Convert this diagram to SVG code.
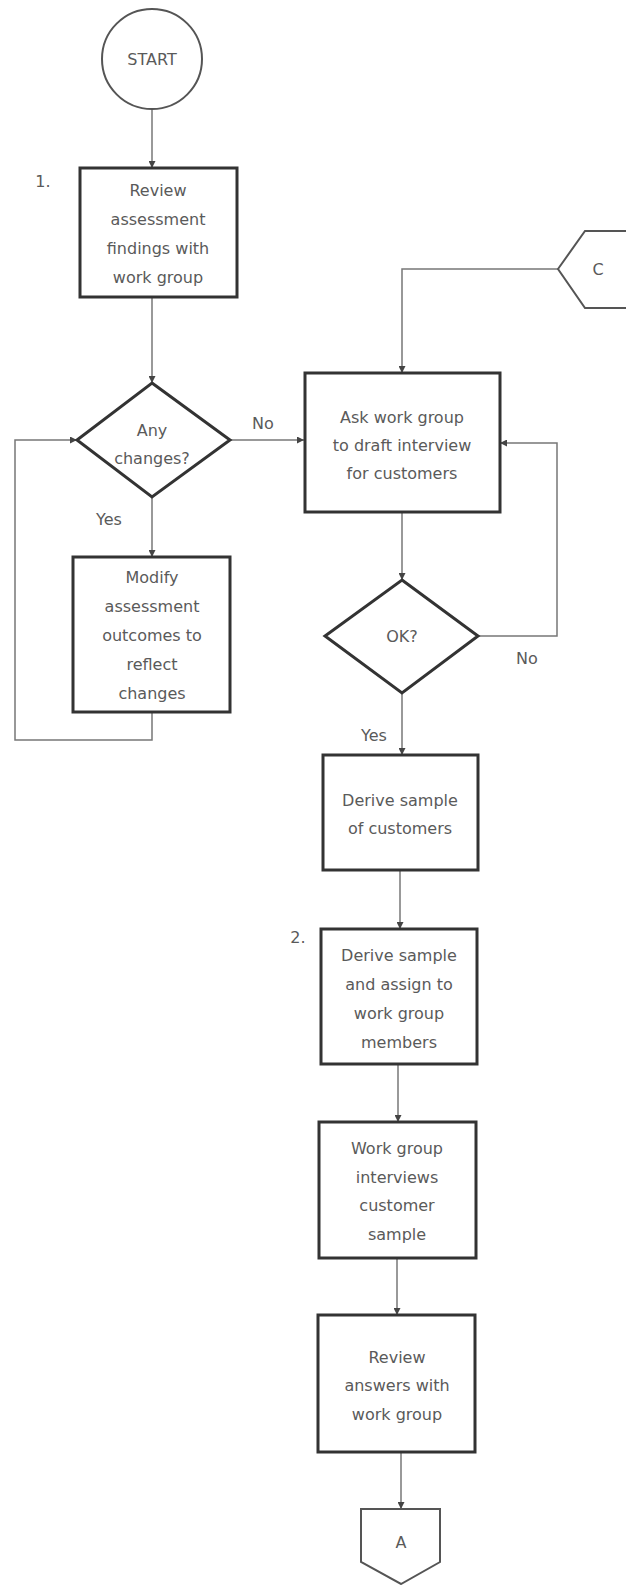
<svg xmlns="http://www.w3.org/2000/svg" width="626" height="1585" viewBox="0 0 626 1585">
  <style>
    .box { fill: #fff; stroke: #333; stroke-width: 3; }
    .term { fill: #fff; stroke: #555; stroke-width: 2; }
    .link { fill: none; stroke: #777; stroke-width: 1.5; }
    text { font-family: "DejaVu Sans", "Liberation Sans", sans-serif; font-size: 16px; fill: #5a5a5a; text-anchor: middle; }
    .lbl { text-anchor: start; }
  </style>
  <defs>
    <marker id="arrow" viewBox="0 0 10 10" refX="10" refY="5" markerWidth="7" markerHeight="7" markerUnits="userSpaceOnUse" orient="auto">
      <path d="M0,0 L10,5 L0,10 Z" fill="#444"/>
    </marker>
  </defs>

  <rect width="626" height="1585" fill="#fff"/>

  <!-- connectors -->
  <g id="connectors">
    <line class="link" x1="152" y1="110" x2="152" y2="168" marker-end="url(#arrow)"/>
    <line class="link" x1="152" y1="297" x2="152" y2="383" marker-end="url(#arrow)"/>
    <line class="link" x1="230" y1="440" x2="304" y2="440" marker-end="url(#arrow)"/>
    <line class="link" x1="152" y1="497" x2="152" y2="557" marker-end="url(#arrow)"/>
    <polyline class="link" points="152,712 152,740 15,740 15,440 77,440" marker-end="url(#arrow)"/>
    <polyline class="link" points="558,269 402,269 402,373" marker-end="url(#arrow)"/>
    <line class="link" x1="402" y1="512" x2="402" y2="580" marker-end="url(#arrow)"/>
    <polyline class="link" points="478,636 557,636 557,443 500,443" marker-end="url(#arrow)"/>
    <line class="link" x1="402" y1="693" x2="402" y2="755" marker-end="url(#arrow)"/>
    <line class="link" x1="400" y1="870" x2="400" y2="929" marker-end="url(#arrow)"/>
    <line class="link" x1="398" y1="1064" x2="398" y2="1122" marker-end="url(#arrow)"/>
    <line class="link" x1="397" y1="1258" x2="397" y2="1315" marker-end="url(#arrow)"/>
    <line class="link" x1="401" y1="1452" x2="401" y2="1509" marker-end="url(#arrow)"/>
    <text class="lbl" x="252" y="429">No</text>
    <text class="lbl" x="96" y="525">Yes</text>
    <text class="lbl" x="516" y="664">No</text>
    <text class="lbl" x="361" y="741">Yes</text>
  </g>

  <!-- start terminal -->
  <g id="start">
    <circle class="term" cx="152" cy="59" r="50"/>
    <text x="152" y="65">START</text>
  </g>

  <!-- step 1 -->
  <g id="review-findings">
    <text x="43" y="187">1.</text>
    <rect class="box" x="80" y="168" width="157" height="129"/>
    <text x="158" y="196">Review</text>
    <text x="158" y="225">assessment</text>
    <text x="158" y="254">findings with</text>
    <text x="158" y="283">work group</text>
  </g>

  <g id="any-changes">
    <polygon class="box" points="152,383 230,440 152,497 77,440"/>
    <text x="152" y="436">Any</text>
    <text x="152" y="464">changes?</text>
  </g>

  <g id="modify-outcomes">
    <rect class="box" x="73" y="557" width="157" height="155"/>
    <text x="152" y="583">Modify</text>
    <text x="152" y="612">assessment</text>
    <text x="152" y="641">outcomes to</text>
    <text x="152" y="670">reflect</text>
    <text x="152" y="699">changes</text>
  </g>

  <!-- off-page connector C -->
  <g id="connector-c">
    <polygon class="term" points="558,269 585,231 640,231 640,308 585,308"/>
    <text x="598" y="275">C</text>
  </g>

  <g id="draft-interview">
    <rect class="box" x="305" y="373" width="195" height="139"/>
    <text x="402" y="423">Ask work group</text>
    <text x="402" y="451">to draft interview</text>
    <text x="402" y="479">for customers</text>
  </g>

  <g id="ok">
    <polygon class="box" points="402,580 478,636 402,693 325,636"/>
    <text x="402" y="642">OK?</text>
  </g>

  <g id="derive-customers">
    <rect class="box" x="323" y="755" width="155" height="115"/>
    <text x="400" y="806">Derive sample</text>
    <text x="400" y="834">of customers</text>
  </g>

  <!-- step 2 -->
  <g id="assign-sample">
    <text x="298" y="943">2.</text>
    <rect class="box" x="321" y="929" width="156" height="135"/>
    <text x="399" y="961">Derive sample</text>
    <text x="399" y="990">and assign to</text>
    <text x="399" y="1019">work group</text>
    <text x="399" y="1048">members</text>
  </g>

  <g id="interviews">
    <rect class="box" x="319" y="1122" width="157" height="136"/>
    <text x="397" y="1154">Work group</text>
    <text x="397" y="1183">interviews</text>
    <text x="397" y="1211">customer</text>
    <text x="397" y="1240">sample</text>
  </g>

  <g id="review-answers">
    <rect class="box" x="318" y="1315" width="157" height="137"/>
    <text x="397" y="1363">Review</text>
    <text x="397" y="1391">answers with</text>
    <text x="397" y="1420">work group</text>
  </g>

  <!-- off-page connector A -->
  <g id="connector-a">
    <polygon class="term" points="361,1509 440,1509 440,1562 401,1584 361,1562"/>
    <text x="401" y="1548">A</text>
  </g>
</svg>
